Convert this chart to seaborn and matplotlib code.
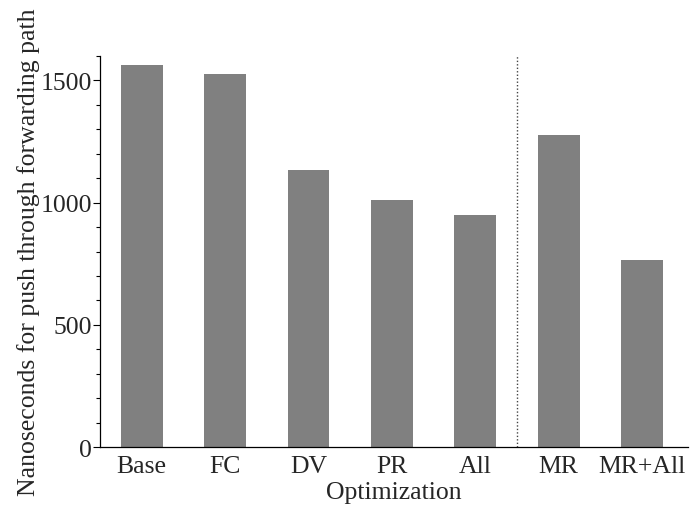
import matplotlib
matplotlib.use('Agg')
import matplotlib.pyplot as plt
from matplotlib.ticker import MultipleLocator
import seaborn as sns
import pandas as pd

# bar data
optimizations = ['Base', 'FC', 'DV', 'PR', 'All', 'MR', 'MR+All']
nanoseconds = [1563, 1527, 1133, 1011, 948, 1277, 764]

sns.set_theme(style="ticks")
plt.rcParams['font.family'] = ['Liberation Serif', 'DejaVu Serif']
FS = 18.5

df = pd.DataFrame({'opt': optimizations, 'ns': nanoseconds})

fig = plt.figure(figsize=(6.9, 5.06), dpi=100)
ax = fig.add_axes([0.145, 0.1146, 0.852, 0.7727])

sns.barplot(data=df, x='opt', y='ns', color='#808080', width=0.5,
            saturation=1, edgecolor='none', ax=ax)

# separator between single optimizations and the MR group
ax.vlines(4.5, 0, 1600, colors='#444444', linestyles=(0, (1, 1.5)), linewidth=1)

ax.set_xlim(-0.5, 6.55)
ax.set_ylim(0, 1600)
ax.yaxis.set_major_locator(MultipleLocator(500))
ax.yaxis.set_minor_locator(MultipleLocator(100))
ax.tick_params(axis='y', which='major', length=5, width=0.8, labelsize=FS, pad=1, color='black')
ax.tick_params(axis='y', which='minor', length=3, width=0.8, color='black')
ax.tick_params(axis='x', length=0, labelsize=FS, pad=5.5)

ax.set_xlabel('Optimization', fontsize=FS, labelpad=3)
ax.set_ylabel('Nanoseconds for push through forwarding path', fontsize=FS, labelpad=0)

sns.despine(ax=ax)
for side in ['left', 'bottom']:
    ax.spines[side].set_linewidth(0.9)
    ax.spines[side].set_color('black')

fig.savefig('out.png', dpi=100)
plt.close(fig)
